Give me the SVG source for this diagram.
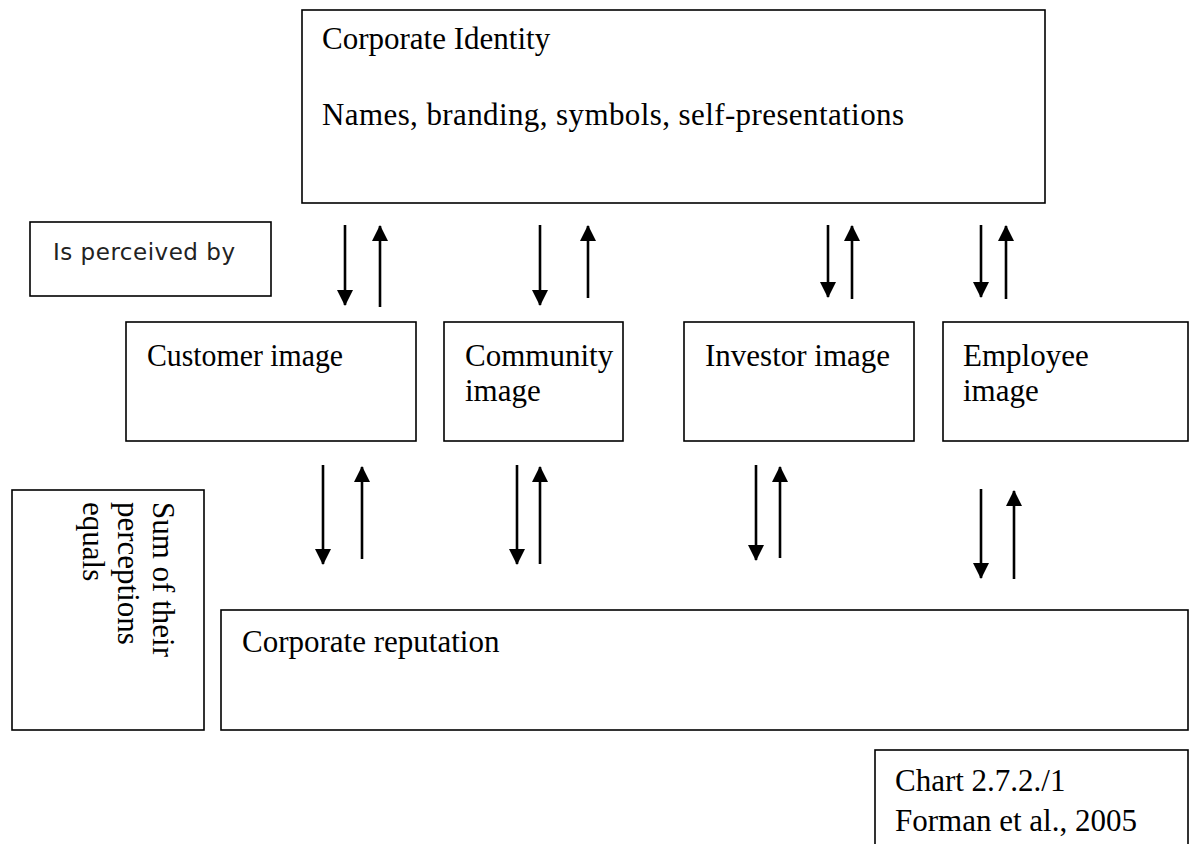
<svg xmlns="http://www.w3.org/2000/svg" width="1190" height="844" viewBox="0 0 1190 844">
<style>
.box{fill:#fff;stroke:#000;stroke-width:1.6}
.t{font-family:"Liberation Serif","Times New Roman",serif;font-size:31px;fill:#000}
.s{font-family:"DejaVu Sans",Tahoma,sans-serif;font-size:23px;fill:#222}
.ar{stroke:#000;stroke-width:2.6;fill:none;marker-end:url(#ah)}
</style>
<defs>
<marker id="ah" markerUnits="userSpaceOnUse" viewBox="0 0 16 16" markerWidth="16" markerHeight="16" refX="15" refY="8" orient="auto">
<path d="M0,0 L16,8 L0,16 z" fill="#000"/>
</marker>
</defs>
<rect width="1190" height="844" fill="#fff"/>
<g id="identity">
<rect class="box" x="302" y="10" width="743" height="193"/>
<text class="t" x="322" y="49">Corporate Identity</text>
<text class="t" x="322" y="125" textLength="582" lengthAdjust="spacing">Names, branding, symbols, self-presentations</text>
</g>
<g id="perceived">
<rect class="box" x="30" y="222" width="241" height="74"/>
<text class="s" x="53" y="260" textLength="182" lengthAdjust="spacing">Is perceived by</text>
</g>
<g id="customer">
<rect class="box" x="126" y="322" width="290" height="119"/>
<text class="t" x="147" y="366" textLength="196" lengthAdjust="spacingAndGlyphs">Customer image</text>
</g>
<g id="community">
<rect class="box" x="444" y="322" width="179" height="119"/>
<text class="t" x="465" y="366">Community</text>
<text class="t" x="465" y="401">image</text>
</g>
<g id="investor">
<rect class="box" x="684" y="322" width="230" height="119"/>
<text class="t" x="705" y="366">Investor image</text>
</g>
<g id="employee">
<rect class="box" x="943" y="322" width="245" height="119"/>
<text class="t" x="963" y="366">Employee</text>
<text class="t" x="963" y="401">image</text>
</g>
<g id="sum">
<rect class="box" x="12" y="490" width="192" height="240"/>
<text class="t" transform="translate(153,502) rotate(90)"><tspan x="0" dy="0">Sum of their</tspan><tspan x="0" dy="35">perceptions</tspan><tspan x="0" dy="35">equals</tspan></text>
</g>
<g id="reputation">
<rect class="box" x="221" y="610" width="967" height="120"/>
<text class="t" x="242" y="652">Corporate reputation</text>
</g>
<g id="chart">
<rect class="box" x="875" y="750" width="313" height="110"/>
<text class="t" x="895" y="791">Chart 2.7.2./1</text>
<text class="t" x="895" y="831">Forman et al., 2005</text>
</g>
<g id="connectors">
<line class="ar" x1="345" y1="225" x2="345" y2="305"/>
<line class="ar" x1="380" y1="307" x2="380" y2="226"/>
<line class="ar" x1="540" y1="225" x2="540" y2="305"/>
<line class="ar" x1="588" y1="298" x2="588" y2="226"/>
<line class="ar" x1="828" y1="225" x2="828" y2="297"/>
<line class="ar" x1="852" y1="299" x2="852" y2="226"/>
<line class="ar" x1="981" y1="225" x2="981" y2="297"/>
<line class="ar" x1="1006" y1="299" x2="1006" y2="226"/>
<line class="ar" x1="323" y1="465" x2="323" y2="564"/>
<line class="ar" x1="362" y1="559" x2="362" y2="467"/>
<line class="ar" x1="517" y1="465" x2="517" y2="564"/>
<line class="ar" x1="540" y1="564" x2="540" y2="467"/>
<line class="ar" x1="756" y1="465" x2="756" y2="560"/>
<line class="ar" x1="780" y1="558" x2="780" y2="467"/>
<line class="ar" x1="981" y1="489" x2="981" y2="578"/>
<line class="ar" x1="1014" y1="579" x2="1014" y2="491"/>
</g>
</svg>
